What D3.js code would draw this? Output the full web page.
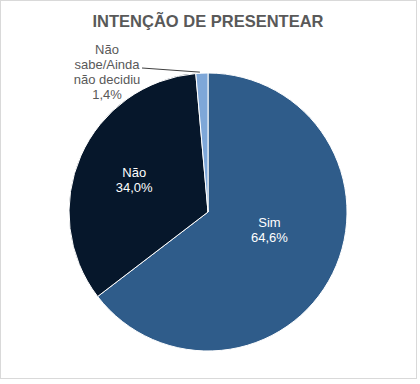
<html>
<head>
<meta charset="utf-8">
<script src="https://d3js.org/d3.v7.min.js"></script>
<style>
body{margin:0;background:#fff;}
svg{display:block;font-family:"Liberation Sans",Arial,sans-serif;}
</style>
</head>
<body>
<script>
var categories = ["Sim", "Não", "Não sabe/Ainda não decidiu"];
var values = [64.6, 34.0, 1.4];
var labels = ["64,6%", "34,0%", "1,4%"];
var colors = ["#2F5C8A", "#06172B", "#7EA7D8"];

var w = 420, h = 384;
var cx = 208, cy = 212, r = 139;

var svg = d3.select("body").append("svg").attr("width", w).attr("height", h);

// chart border
svg.append("rect").attr("x", 0.5).attr("y", 0.5).attr("width", 416).attr("height", 378)
  .attr("fill", "#fff").attr("stroke", "#d9d9d9");

svg.append("text").attr("x", 208).attr("y", 27).attr("text-anchor", "middle")
  .attr("font-size", 16.5).attr("font-weight", "bold").attr("fill", "#595959")
  .text("INTENÇÃO DE PRESENTEAR");

var pie = d3.pie().sort(null).value(function(d){ return d; });
var arcs = pie(values);
var arc = d3.arc().innerRadius(0).outerRadius(r);

var g = svg.append("g").attr("transform", "translate(" + cx + "," + cy + ")");
g.selectAll("path").data(arcs).enter().append("path")
  .attr("d", arc)
  .attr("fill", function(d, i){ return colors[i]; })
  .attr("stroke", "#fff").attr("stroke-width", 1);

// inside labels (excel "best fit" puts them a bit off the mid angle)
var lr = [0.46, 0.58], da = [-0.18, 0];
[0, 1].forEach(function(i){
  var a = (arcs[i].startAngle + arcs[i].endAngle) / 2 + da[i];
  var x = Math.sin(a) * r * lr[i], y = -Math.cos(a) * r * lr[i];
  var t = g.append("text").attr("text-anchor", "middle").attr("fill", "#fff").attr("font-size", 13);
  t.append("tspan").attr("x", x).attr("y", y - 3).text(categories[i]);
  t.append("tspan").attr("x", x).attr("y", y + 12).text(labels[i]);
});

// outside label with leader line
var a3 = arcs[2];
var mid = (a3.startAngle + a3.endAngle) / 2;
var px = Math.sin(mid) * r, py = -Math.cos(mid) * r;
g.append("line").attr("x1", px - 2).attr("y1", py - 1).attr("x2", 142 - cx).attr("y2", 68 - cy)
  .attr("stroke", "#404040").attr("stroke-width", 1);
var lt = g.append("text").attr("text-anchor", "middle").attr("fill", "#595959").attr("font-size", 13);
["Não", "sabe/Ainda", "não decidiu", labels[2]].forEach(function(s, k){
  lt.append("tspan").attr("x", 107 - cx).attr("y", 54 - cy + k * 15).text(s);
});
</script>
</body>
</html>
